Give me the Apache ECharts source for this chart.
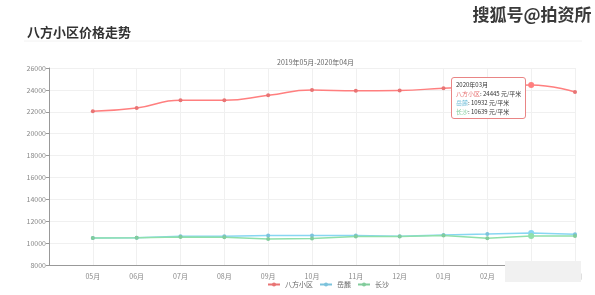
<!DOCTYPE html>
<html>
<head>
<meta charset="utf-8">
<script src="https://cdn.jsdelivr.net/npm/echarts@6/dist/echarts.min.js"></script>
<style>
html,body{margin:0;padding:0;background:#fff;}
#c{width:595px;height:295px;}
</style>
</head>
<body>
<div id="c"></div>
<script>
const categories = ['05月','06月','07月','08月','09月','10月','11月','12月','01月','02月','03月','04月'];
const tooltipTitles = ['2019年05月','2019年06月','2019年07月','2019年08月','2019年09月','2019年10月','2019年11月','2019年12月','2020年01月','2020年02月','2020年03月','2020年04月'];
const bafang = [22050, 22350, 23050, 23050, 23500, 23980, 23920, 23950, 24150, 24300, 24445, 23800];
const yuelu  = [10476, 10500, 10630, 10630, 10685, 10685, 10685, 10630, 10750, 10840, 10932, 10810];
const changsha = [10476, 10500, 10560, 10540, 10384, 10410, 10600, 10600, 10700, 10445, 10639, 10660];
const yTicks = {min: 8000, max: 26000, interval: 2000};

const chart = echarts.init(document.getElementById('c'));
const toPairs = arr => arr.map((v, i) => [i, v]);
const colors = ['#e87474', '#7cc3dc', '#82cc9c'];
const names = ['八方小区', '岳麓', '长沙'];
const font = 'Noto Sans CJK SC, sans-serif';

chart.setOption({
  animation: false,
  color: colors,
  textStyle: {fontFamily: font},
  title: [
    {text: '八方小区价格走势', left: 22, top: 21, textStyle: {fontSize: 13, fontWeight: 'bold', color: '#333', fontFamily: font}},
    {text: '2019年05月-2020年04月', left: 272, top: 54, textStyle: {fontSize: 7, fontWeight: 'normal', color: '#666', fontFamily: font}}
  ],
  graphic: [
    {type: 'line', shape: {x1: 24, y1: 41, x2: 582, y2: 41}, style: {stroke: '#f2f2f2', lineWidth: 1}},
    {type: 'text', left: 472, top: 6, style: {text: '搜狐号@拍资所', fontSize: 17, fontWeight: 'bold', fill: '#3a3a3a', stroke: '#fff', lineWidth: 1, fontFamily: font}},
    {type: 'rect', shape: {x: 505, y: 261, width: 76, height: 21}, style: {fill: '#f1f1f1'}, z: 100}
  ],
  legend: {
    data: names,
    bottom: 2,
    left: 262,
    itemWidth: 12,
    itemHeight: 5,
    itemGap: 6,
    textStyle: {fontSize: 7, color: '#666'}
  },
  tooltip: {
    trigger: 'axis',
    alwaysShowContent: true,
    axisPointer: {type: 'none'},
    position: [451, 77],
    backgroundColor: '#fff',
    borderColor: '#e98585',
    borderWidth: 1,
    padding: [2, 4],
    extraCssText: 'border-radius:3px;box-shadow:none;',
    textStyle: {fontSize: 6, color: '#333'},
    formatter: function (params) {
      const idx = params[0].dataIndex;
      let s = '<div style="font-size:6px;line-height:9px;color:#333">' + tooltipTitles[idx];
      params.forEach(p => {
        s += '<br/><span style="color:' + p.color + '">' + p.seriesName + '</span>: ' + p.value[1] + ' 元/平米';
      });
      return s + '</div>';
    }
  },
  grid: {left: 49, right: 20, top: 68, bottom: 30},
  xAxis: {
    type: 'value',
    min: -1,
    max: categories.length - 1,
    interval: 1,
    axisLine: {show: true, onZero: false, lineStyle: {color: '#999'}},
    axisTick: {show: false},
    axisLabel: {fontSize: 7, color: '#888', formatter: v => categories[v] || ''},
    splitLine: {show: true, lineStyle: {color: '#f0f0f0'}}
  },
  yAxis: {
    type: 'value',
    min: yTicks.min,
    max: yTicks.max,
    interval: yTicks.interval,
    axisLine: {show: true, onZero: false, lineStyle: {color: '#999'}},
    axisTick: {show: true, length: 3, lineStyle: {color: '#999'}},
    axisLabel: {fontSize: 7, color: '#888', margin: 3, formatter: v => String(v)},
    splitLine: {show: true, lineStyle: {color: '#f0f0f0'}}
  },
  series: [
    {name: names[0], type: 'line', smooth: true, data: toPairs(bafang), symbol: 'circle', symbolSize: 4, lineStyle: {width: 1.5}},
    {name: names[1], type: 'line', data: toPairs(yuelu), symbol: 'circle', symbolSize: 4, lineStyle: {width: 1.5}},
    {name: names[2], type: 'line', data: toPairs(changsha), symbol: 'circle', symbolSize: 4, lineStyle: {width: 1.5}}
  ]
});
chart.dispatchAction({type: 'showTip', seriesIndex: 0, dataIndex: 10});
</script>
</body>
</html>
